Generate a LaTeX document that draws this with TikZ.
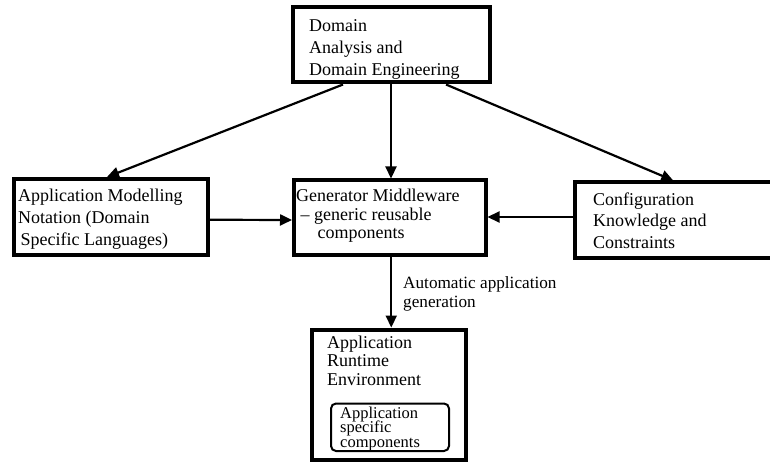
\documentclass[tikz,border=0pt]{standalone}
\usepackage{fontspec}
\setmainfont{Liberation Serif}
\usetikzlibrary{arrows.meta,calc}

% fixed first-line height so text blocks can be placed by their top edge
\newcommand\firstln{\rule{0pt}{13pt}}
% allow lines to sit closer than their glyph extents
\newcommand\tightlines{\lineskiplimit=-20pt\relax\lineskip=0pt\relax}

\begin{document}
\begin{tikzpicture}[x=1pt,y=-1pt,
  box/.style={draw,line width=4pt,rectangle,inner sep=0pt},
  subbox/.style={draw,line width=2pt,rectangle,rounded corners=5pt,inner sep=0pt},
  txt/.style={anchor=north west,inner sep=0pt,align=left},
  conn/.style={line width=2.2pt,-{Triangle[length=12pt,width=11pt]}}
]
\clip (0,0) rectangle (770,462);

% frames
\node[box,minimum width=197pt,minimum height=75pt] (top) at (391,45) {};
\node[box,minimum width=193.5pt,minimum height=75.5pt] (left) at (110.75,216.75) {};
\node[box,minimum width=191.5pt,minimum height=74pt] (mid) at (389.75,217.5) {};
\node[box,minimum width=205.5pt,minimum height=75pt] (right) at (677.25,220) {};
\node[box,minimum width=153.5pt,minimum height=130pt] (bot) at (388.75,394.5) {};
\node[subbox,minimum width=118pt,minimum height=47.5pt] (inner) at (390,427.25) {};

% texts
\node[txt,font=\fontsize{18}{22}\selectfont] (toptxt) at (309,18)
  {\firstln Domain\\Analysis and\\Domain Engineering};
\node[txt,font=\fontsize{18}{22}\selectfont] (lefttxt) at (18,188.7)
  {\firstln Application Modelling\\Notation (Domain\\\hspace*{2.5pt}Specific Languages)};
\node[txt,font=\fontsize{18}{18.3}\selectfont\tightlines] (midtxt) at (296,188.7)
  {\firstln Generator Middleware\\\hspace*{4.5pt}– generic reusable\\\hspace*{21.5pt}components};
\node[txt,font=\fontsize{18}{21.5}\selectfont] (righttxt) at (593,192)
  {\firstln Configuration\\Knowledge and\\Constraints};
\node[txt,font=\fontsize{18}{18.5}\selectfont\tightlines] (bottxt) at (327,335)
  {\firstln Application\\Runtime\\Environment};
\node[txt,font=\fontsize{16.5}{14.6}\selectfont\tightlines] (innertxt) at (340,405)
  {\firstln Application\\specific\\components};
\node[txt,font=\fontsize{17.2}{19}\selectfont\tightlines] (genlbl) at (403,275)
  {\firstln Automatic application\\generation};

% connectors
\draw[conn] ($(top.south)+(-48,0)$) -- ($(left.north)+(-3.75,0)$);
\draw[conn] (top.south) -- (top.south |- mid.north);
\draw[conn] ($(top.south)+(55,0)$) -- ($(right.north)+(-4,0)$);
\draw[conn] ($(left.east)+(0,3)$) -- ($(mid.west)+(0,2.5)$);
\draw[conn] ($(right.west)+(0,-3)$) -- ($(mid.east)+(0,-0.5)$);
\coordinate (gen) at ($(mid.south)+(1.5,0)$);
\draw[conn] (gen) -- (gen |- bot.north);
\end{tikzpicture}
\end{document}
